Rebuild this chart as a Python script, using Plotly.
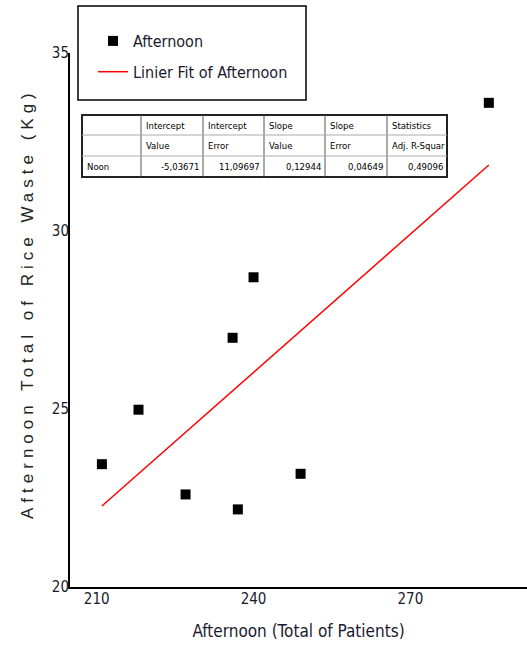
import plotly.graph_objects as go

# ---------------- data ----------------
patients = [211, 218, 227, 236, 237, 240, 249, 285]
rice_waste = [23.45, 24.98, 22.6, 27.0, 22.18, 28.7, 23.18, 33.6]

fit_intercept = -5.03671
fit_slope = 0.12944

x_ticks = [210, 240, 270]
y_ticks = [20, 25, 30, 35]

table_header1 = ["", "Intercept", "Intercept", "Slope", "Slope", "Statistics"]
table_header2 = ["", "Value", "Error", "Value", "Error", "Adj. R-Squar"]
table_row = ["Noon", "-5,03671", "11,09697", "0,12944", "0,04649", "0,49096"]

# ---------------- layout helpers (pixel -> paper) ----------------
W, H = 527, 646
L, R, T, B = 70, 527, 53, 587
PW, PH = R - L, B - T


def px(x):
    return (x - L) / PW


def py(y):
    return (B - y) / PH


NARROW = "Liberation Sans Narrow, Arial Narrow, DejaVu Sans Condensed, sans-serif"
ARIAL = "Liberation Sans, Arial, sans-serif"

fit_x = [min(patients), max(patients)]
fit_y = [fit_intercept + fit_slope * v for v in fit_x]

fig = go.Figure()
fig.add_trace(go.Scatter(
    x=patients, y=rice_waste, mode="markers", name="Afternoon",
    marker=dict(symbol="square", size=10, color="black"),
    legendgroup="a",
))
fig.add_trace(go.Scatter(
    x=fit_x, y=fit_y, mode="lines", name="Linier Fit of Afternoon",
    line=dict(color="#ff0000", width=1.5),
    legendgroup="b",
))

shapes = []
annotations = []

# legend frame
shapes.append(dict(type="rect", xref="paper", yref="paper",
                   x0=px(78), x1=px(306), y0=py(100), y1=py(6),
                   line=dict(color="black", width=1.5), fillcolor="rgba(0,0,0,0)"))

# statistics table
col_edges = [82, 141, 203, 264, 325, 387, 447]
row_edges = [115, 135, 156, 177]
shapes.append(dict(type="rect", xref="paper", yref="paper",
                   x0=px(col_edges[0]), x1=px(col_edges[-1]),
                   y0=py(row_edges[-1]), y1=py(row_edges[0]),
                   fillcolor="white", line=dict(color="#222", width=2), layer="above"))
for ce in col_edges[1:-1]:
    shapes.append(dict(type="line", xref="paper", yref="paper",
                       x0=px(ce), x1=px(ce), y0=py(row_edges[-1]), y1=py(row_edges[0]),
                       line=dict(color="#555", width=1), layer="above"))
for re_ in row_edges[1:-1]:
    shapes.append(dict(type="line", xref="paper", yref="paper",
                       x0=px(col_edges[0]), x1=px(col_edges[-1]), y0=py(re_), y1=py(re_),
                       line=dict(color="#aaa", width=1), layer="above"))

rows = [table_header1, table_header2, table_row]
for ri, row in enumerate(rows):
    yc = (row_edges[ri] + row_edges[ri + 1]) / 2
    for ci, txt in enumerate(row):
        if not txt:
            continue
        right = ri == 2 and ci > 0
        xa = col_edges[ci + 1] - 2 if right else col_edges[ci] + 3
        annotations.append(dict(
            x=px(xa), y=py(yc), xref="paper", yref="paper", text=txt,
            showarrow=False, xanchor="right" if right else "left", yanchor="middle",
            font=dict(family=NARROW, size=9.5, color="black"),
        ))

# y axis title (wide spaced)
annotations.append(dict(
    x=px(27), y=py(304), xref="paper", yref="paper",
    text="Afternoon Total of Rice Waste (Kg)", textangle=-90, showarrow=False,
    xanchor="center", yanchor="middle",
    font=dict(family=ARIAL, size=17, color="#222"),
))

fig.update_layout(
    width=W, height=H,
    margin=dict(l=L, r=W - R, t=T, b=H - B, autoexpand=False),
    paper_bgcolor="white", plot_bgcolor="white",
    showlegend=True,
    legend=dict(
        x=px(93), y=py(24), xanchor="left", yanchor="top",
        bgcolor="rgba(0,0,0,0)", borderwidth=0,
        font=dict(family=NARROW, size=16, color="#1a1a2e"),
        tracegroupgap=7, itemwidth=30,
    ),
    xaxis=dict(
        range=[204.9, 292.3], tickvals=x_ticks, ticks="", showgrid=False,
        zeroline=False, showline=True, linecolor="black", linewidth=2,
        ticklabelstandoff=-3,
        tickfont=dict(family=NARROW, size=15, color="#1a1a2e"),
        title=dict(text="Afternoon (Total of Patients)", standoff=18,
                   font=dict(family=NARROW, size=17, color="#1a1a2e")),
        automargin=False,
    ),
    yaxis=dict(
        range=[20, 35], tickvals=y_ticks, ticks="", showgrid=False,
        zeroline=False, showline=True, linecolor="black", linewidth=2,
        ticklabelstandoff=-4,
        tickfont=dict(family=NARROW, size=15, color="#1a1a2e"),
        automargin=False,
    ),
    shapes=shapes,
    annotations=annotations,
)

post = """
document.body.style.margin = '0';
document.querySelectorAll('text').forEach(function(t){
  if (t.textContent.indexOf('Afternoon Total of Rice') === 0) {
    t.style.letterSpacing = '5px';
  }
});
"""
fig.write_html("out.html", post_script=post, config={"displayModeBar": False})
